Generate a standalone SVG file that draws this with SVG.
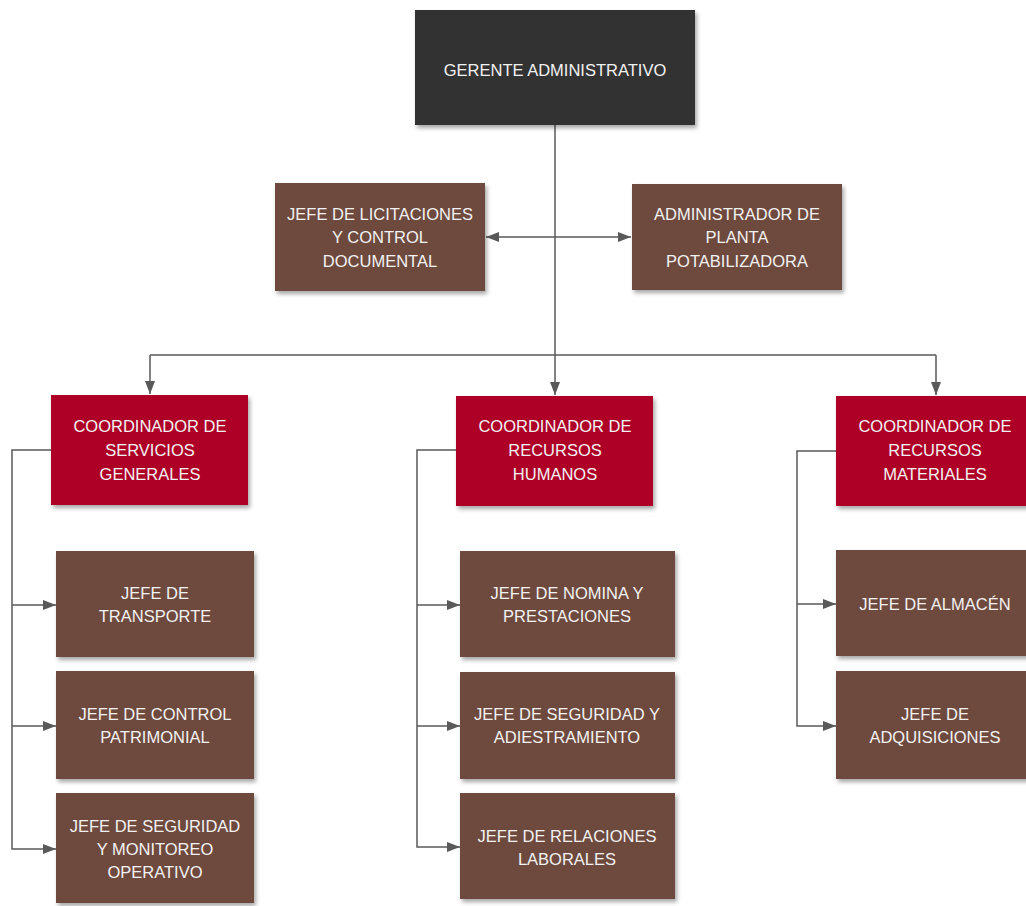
<svg xmlns="http://www.w3.org/2000/svg" width="1026" height="906" viewBox="0 0 1026 906">
<defs>
<filter id="sh" x="-10%" y="-10%" width="125%" height="130%">
<feDropShadow dx="2" dy="3" stdDeviation="2" flood-color="#000" flood-opacity="0.35"/>
</filter>
<marker id="ah" viewBox="0 0 13 10" refX="13" refY="5" markerWidth="13" markerHeight="10" markerUnits="userSpaceOnUse" orient="auto-start-reverse">
<path d="M0,0 L13,5 L0,10 Z" fill="#595959"/>
</marker>
<style>
.top{fill:#333130;filter:url(#sh)}
.br{fill:#6E4A3E;filter:url(#sh)}
.cr{fill:#AE0428;filter:url(#sh)}
text{font-family:"Liberation Sans",Arial,sans-serif;font-size:16.5px;fill:#F2F2F2;text-anchor:middle}
.ln{fill:none;stroke:#595959;stroke-width:1.5}
</style>
</defs>
<rect width="1026" height="906" fill="#fff"/>
<g id="connectors">
<path class="ln" d="M555,125 V395" marker-end="url(#ah)"/>
<path class="ln" d="M486,237 H631" marker-start="url(#ah)" marker-end="url(#ah)"/>
<path class="ln" d="M150,355 H936"/>
<path class="ln" d="M150,355 V394" marker-end="url(#ah)"/>
<path class="ln" d="M936,355 V395" marker-end="url(#ah)"/>
<path class="ln" d="M51,450 H12 V849 H56" marker-end="url(#ah)"/>
<path class="ln" d="M12,605 H56" marker-end="url(#ah)"/>
<path class="ln" d="M12,726 H56" marker-end="url(#ah)"/>
<path class="ln" d="M456,450 H417 V847 H460" marker-end="url(#ah)"/>
<path class="ln" d="M417,605 H460" marker-end="url(#ah)"/>
<path class="ln" d="M417,726 H460" marker-end="url(#ah)"/>
<path class="ln" d="M836,451 H797 V726 H836" marker-end="url(#ah)"/>
<path class="ln" d="M797,604 H836" marker-end="url(#ah)"/>
</g>
<g id="gerente"><rect class="top" x="415" y="10" width="280" height="115"/><text x="555" y="76">GERENTE ADMINISTRATIVO</text></g>
<g id="licitaciones"><rect class="br" x="275" y="183" width="210" height="108"/><text x="380" y="220">JEFE DE LICITACIONES</text><text x="380" y="243">Y CONTROL</text><text x="380" y="267">DOCUMENTAL</text></g>
<g id="planta"><rect class="br" x="632" y="184" width="210" height="106"/><text x="737" y="220">ADMINISTRADOR DE</text><text x="737" y="243">PLANTA</text><text x="737" y="267">POTABILIZADORA</text></g>
<g id="coord-servicios"><rect class="cr" x="51" y="395" width="197" height="110"/><text x="150" y="432">COORDINADOR DE</text><text x="150" y="456">SERVICIOS</text><text x="150" y="480">GENERALES</text></g>
<g id="coord-humanos"><rect class="cr" x="456" y="396" width="197" height="110"/><text x="555" y="432">COORDINADOR DE</text><text x="555" y="456">RECURSOS</text><text x="555" y="480">HUMANOS</text></g>
<g id="coord-materiales"><rect class="cr" x="836" y="396" width="198" height="110"/><text x="935" y="432">COORDINADOR DE</text><text x="935" y="456">RECURSOS</text><text x="935" y="480">MATERIALES</text></g>
<g id="transporte"><rect class="br" x="56" y="551" width="198" height="106"/><text x="155" y="599">JEFE DE</text><text x="155" y="622">TRANSPORTE</text></g>
<g id="patrimonial"><rect class="br" x="56" y="671" width="198" height="108"/><text x="155" y="720">JEFE DE CONTROL</text><text x="155" y="743">PATRIMONIAL</text></g>
<g id="monitoreo"><rect class="br" x="56" y="793" width="198" height="110"/><text x="155" y="832">JEFE DE SEGURIDAD</text><text x="155" y="855">Y MONITOREO</text><text x="155" y="878">OPERATIVO</text></g>
<g id="nomina"><rect class="br" x="460" y="551" width="215" height="106"/><text x="567" y="599">JEFE DE NOMINA Y</text><text x="567" y="622">PRESTACIONES</text></g>
<g id="adiestramiento"><rect class="br" x="460" y="672" width="215" height="107"/><text x="567" y="720">JEFE DE SEGURIDAD Y</text><text x="567" y="743">ADIESTRAMIENTO</text></g>
<g id="relaciones"><rect class="br" x="460" y="793" width="215" height="106"/><text x="567" y="842">JEFE DE RELACIONES</text><text x="567" y="865">LABORALES</text></g>
<g id="almacen"><rect class="br" x="836" y="550" width="198" height="106"/><text x="935" y="610">JEFE DE ALMACÉN</text></g>
<g id="adquisiciones"><rect class="br" x="836" y="671" width="198" height="108"/><text x="935" y="720">JEFE DE</text><text x="935" y="743">ADQUISICIONES</text></g>
</svg>
